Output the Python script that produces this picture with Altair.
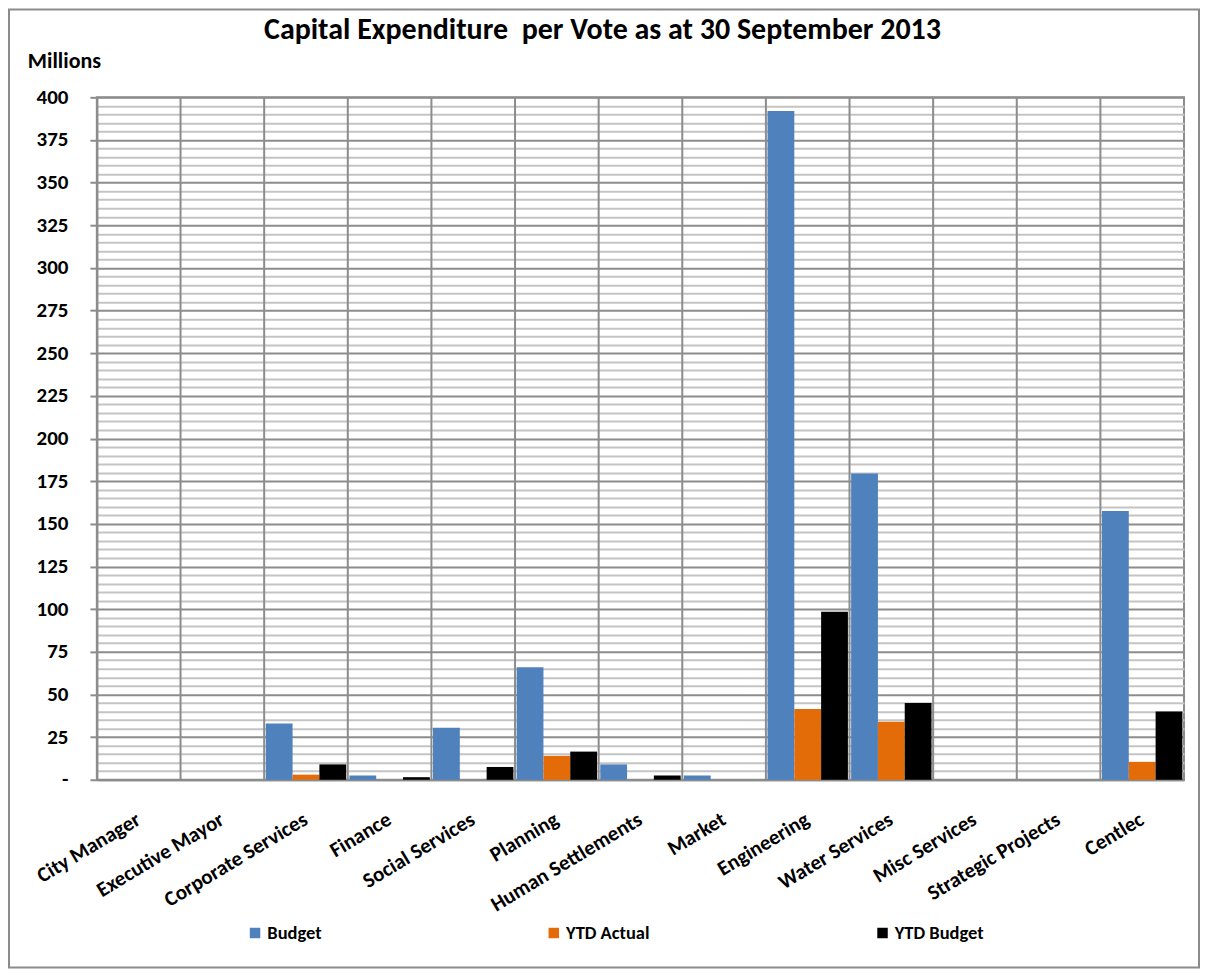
import altair as alt
import pandas as pd

TITLE = "Capital Expenditure \u00a0per Vote as at 30 September 2013"
Y_TITLE = "Millions"

CATEGORIES = ["City Manager", "Executive Mayor", "Corporate Services", "Finance",
              "Social Services", "Planning", "Human Settlements", "Market",
              "Engineering", "Water Services", "Misc Services", "Strategic Projects",
              "Centlec"]
SERIES = ["Budget", "YTD Actual", "YTD Budget"]
COLORS = ["#4F81BD", "#E36C09", "#000000"]

BUDGET = [0, 0, 33, 2.5, 30.5, 66, 9, 2.5, 392, 179.5, 0, 0, 157.5]
YTD_ACTUAL = [0, 0, 3, 0, 0, 14, 0, 0, 41.5, 34, 0, 0, 10.5]
YTD_BUDGET = [0, 0, 9, 1.5, 7.5, 16.5, 2.5, 0, 98.5, 45, 0, 0, 40]

Y_MAJOR = list(range(0, 401, 25))
Y_MINOR = list(range(0, 401, 5))

FONT = "Carlito, Lato, sans-serif"
W, H = 1088, 683

rows = []
for s, vals in zip(SERIES, [BUDGET, YTD_ACTUAL, YTD_BUDGET]):
    for c, v in zip(CATEGORIES, vals):
        rows.append({"category": c, "series": s, "value": v})
df = pd.DataFrame(rows)
cat_df = pd.DataFrame({"category": CATEGORIES})

x_enc = alt.X(
    "category:N", sort=CATEGORIES,
    scale=alt.Scale(paddingInner=0, paddingOuter=0),
    axis=alt.Axis(title=None, labelAngle=-31, labelAlign="right", labelBaseline="middle",
                  labelPadding=38, ticks=False, labelFont=FONT, labelFontSize=21,
                  labelFontWeight="bold", labelColor="#000000", labelLimit=300,
                  domainColor="#8c8c8c", domainWidth=2, grid=False),
)

frame = alt.Chart(pd.DataFrame({"k": [0]})).mark_rect(
    fill="transparent", stroke="#8c8c8c", strokeWidth=2
).encode(x=alt.value(-88), x2=alt.value(W + 15), y=alt.value(-88), y2=alt.value(H + 188))

title = alt.Chart(pd.DataFrame({"t": [TITLE]})).mark_text(
    font=FONT, fontSize=30, fontWeight="bold", color="#000000", align="center", baseline="middle"
).encode(text="t:N", x=alt.value(506), y=alt.value(-67))

rules = alt.Chart(cat_df).mark_rule(color="#8c8c8c", strokeWidth=2).encode(
    x=alt.X("category:N", sort=CATEGORIES, bandPosition=0)
)

bars = alt.Chart(df).mark_bar().encode(
    x=x_enc,
    xOffset=alt.XOffset("series:N", sort=SERIES,
                        scale=alt.Scale(paddingInner=0, paddingOuter=0.06)),
    y=alt.Y(
        "value:Q",
        scale=alt.Scale(domain=[0, 400], nice=False),
        axis=alt.Axis(
            values=Y_MINOR,
            title=Y_TITLE, titleAngle=0, titleAlign="center", titleBaseline="middle",
            titleX=-33, titleY=-37, titleFont=FONT, titleFontSize=22, titleFontWeight="bold",
            titleColor="#000000",
            labelExpr="datum.value % 25 === 0 ? (datum.value === 0 ? '-' : datum.label) : ''",
            labelFont=FONT, labelFontSize=21, labelFontWeight="bold", labelColor="#000000",
            labelPadding=22, labelOverlap=False,
            tickSize={"expr": "datum.value % 25 === 0 ? 7 : 0"},
            tickColor="#8c8c8c", tickWidth=2,
            gridColor={"expr": "datum.value % 25 === 0 ? '#8c8c8c' : '#c4c4c4'"},
            gridWidth=2,
            domainColor="#8c8c8c", domainWidth=2,
        ),
    ),
    color=alt.Color(
        "series:N", sort=SERIES,
        scale=alt.Scale(domain=SERIES, range=COLORS),
        legend=alt.Legend(
            title=None, orient="none", direction="horizontal", legendX=149, legendY=827,
            symbolType="square", symbolSize=110, symbolStrokeWidth=0,
            labelFont=FONT, labelFontSize=18.5, labelFontWeight="bold", labelColor="#000000",
            columnPadding=223, labelOffset=3,
        ),
    ),
)

chart = alt.layer(frame, rules, bars, title).properties(
    width=W, height=H, padding=0, background="white"
).configure_view(stroke="#8c8c8c", strokeWidth=2)

chart.save("out.html", embed_options={"renderer": "svg", "actions": False})
